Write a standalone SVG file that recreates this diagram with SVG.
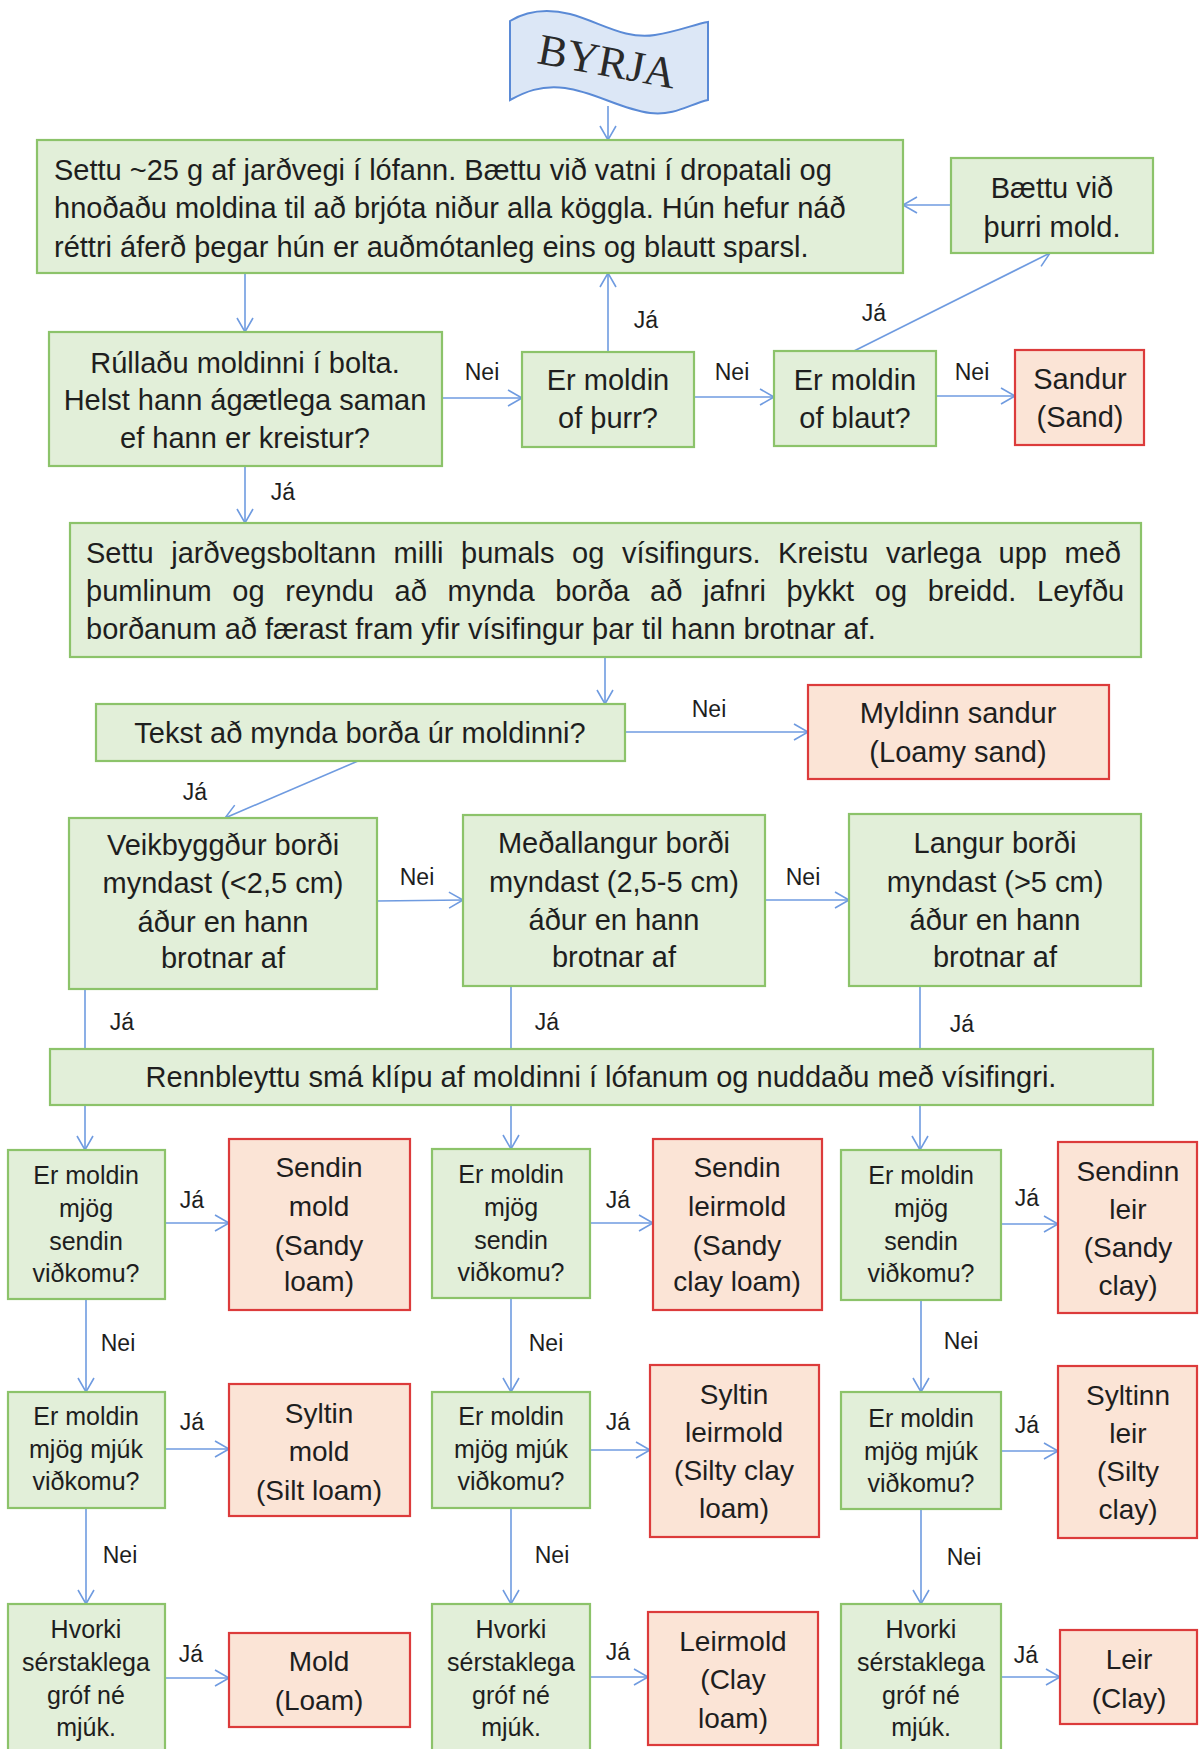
<svg xmlns="http://www.w3.org/2000/svg" width="1199" height="1749" viewBox="0 0 1199 1749">
<style>
  .g { fill: #e2efd9; stroke: #8cc36a; stroke-width: 2.2; }
  .r { fill: #fbe4d6; stroke: #dc3b3b; stroke-width: 2.2; }
  .t { font-family: "Liberation Sans", Arial, sans-serif; fill: #1e1e1e; }
  .t29 { font-size: 29px; }
  .t28 { font-size: 28px; }
  .t25 { font-size: 25px; }
  .c { text-anchor: middle; }
  .lbl { font-family: "Liberation Sans", Arial, sans-serif; font-size: 23px; fill: #1e1e1e; text-anchor: middle; }
  .con line { stroke: #6f9be0; stroke-width: 1.6; fill: none; }
  .arr { marker-end: url(#ah); }
</style>
<defs>
  <marker id="ah" viewBox="0 0 18 18" markerWidth="18" markerHeight="18" refX="15" refY="9" orient="auto" markerUnits="userSpaceOnUse">
    <path d="M1,1 L15,9 L1,17" fill="none" stroke="#6f9be0" stroke-width="1.6"/>
  </marker>
</defs>
<rect width="1199" height="1749" fill="#ffffff"/>

<g id="connectors" class="con">
  <line class="arr" x1="608" y1="106" x2="608" y2="140"/>
  <line class="arr" x1="951" y1="205" x2="903" y2="205"/>
  <line class="arr" x1="245" y1="273" x2="245" y2="332"/>
  <line class="arr" x1="442" y1="398" x2="522" y2="398"/>
  <line class="arr" x1="608" y1="352" x2="608" y2="273"/>
  <line class="arr" x1="694" y1="397" x2="774" y2="397"/>
  <line class="arr" x1="854" y1="351" x2="1050" y2="253"/>
  <line class="arr" x1="936" y1="396" x2="1015" y2="396"/>
  <line class="arr" x1="245" y1="466" x2="245" y2="523"/>
  <line class="arr" x1="605" y1="657" x2="605" y2="704"/>
  <line class="arr" x1="625" y1="732" x2="808" y2="732"/>
  <line class="arr" x1="358" y1="761" x2="225" y2="818"/>
  <line class="arr" x1="377" y1="901" x2="463" y2="900"/>
  <line class="arr" x1="765" y1="900" x2="849" y2="900"/>
  <line x1="85" y1="989" x2="85" y2="1049"/>
  <line x1="511" y1="986" x2="511" y2="1049"/>
  <line x1="920" y1="986" x2="920" y2="1049"/>
  <line class="arr" x1="85" y1="1105" x2="85" y2="1150"/>
  <line class="arr" x1="511" y1="1105" x2="511" y2="1149"/>
  <line class="arr" x1="920" y1="1105" x2="920" y2="1150"/>
  <line class="arr" x1="165" y1="1223" x2="229" y2="1223"/>
  <line class="arr" x1="86" y1="1299" x2="86" y2="1392"/>
  <line class="arr" x1="165" y1="1449" x2="229" y2="1449"/>
  <line class="arr" x1="86" y1="1508" x2="86" y2="1604"/>
  <line class="arr" x1="165" y1="1678" x2="229" y2="1678"/>
  <line class="arr" x1="590" y1="1223" x2="653" y2="1223"/>
  <line class="arr" x1="511" y1="1298" x2="511" y2="1392"/>
  <line class="arr" x1="590" y1="1450" x2="650" y2="1450"/>
  <line class="arr" x1="511" y1="1508" x2="511" y2="1604"/>
  <line class="arr" x1="590" y1="1677" x2="648" y2="1677"/>
  <line class="arr" x1="1001" y1="1224" x2="1058" y2="1224"/>
  <line class="arr" x1="921" y1="1300" x2="921" y2="1392"/>
  <line class="arr" x1="1001" y1="1451" x2="1058" y2="1451"/>
  <line class="arr" x1="921" y1="1509" x2="921" y2="1604"/>
  <line class="arr" x1="1001" y1="1677" x2="1060" y2="1677"/>
  <text class="lbl" x="482" y="380">Nei</text>
  <text class="lbl" x="646" y="328">Já</text>
  <text class="lbl" x="732" y="380">Nei</text>
  <text class="lbl" x="874" y="321">Já</text>
  <text class="lbl" x="972" y="380">Nei</text>
  <text class="lbl" x="283" y="500">Já</text>
  <text class="lbl" x="709" y="717">Nei</text>
  <text class="lbl" x="195" y="800">Já</text>
  <text class="lbl" x="417" y="885">Nei</text>
  <text class="lbl" x="803" y="885">Nei</text>
  <text class="lbl" x="122" y="1030">Já</text>
  <text class="lbl" x="547" y="1030">Já</text>
  <text class="lbl" x="962" y="1032">Já</text>
  <text class="lbl" x="192" y="1208">Já</text>
  <text class="lbl" x="118" y="1351">Nei</text>
  <text class="lbl" x="192" y="1430">Já</text>
  <text class="lbl" x="120" y="1563">Nei</text>
  <text class="lbl" x="191" y="1662">Já</text>
  <text class="lbl" x="618" y="1208">Já</text>
  <text class="lbl" x="546" y="1351">Nei</text>
  <text class="lbl" x="618" y="1430">Já</text>
  <text class="lbl" x="552" y="1563">Nei</text>
  <text class="lbl" x="618" y="1660">Já</text>
  <text class="lbl" x="1027" y="1206">Já</text>
  <text class="lbl" x="961" y="1349">Nei</text>
  <text class="lbl" x="1027" y="1433">Já</text>
  <text class="lbl" x="964" y="1565">Nei</text>
  <text class="lbl" x="1026" y="1663">Já</text>
</g>

<g id="byrja">
  <path d="M510,21 C525,12 545,8 570,14 C600,22 625,40 655,35 C680,31 695,24 708,22 L708,100 C690,104 675,116 650,113 C620,109 595,92 565,88 C540,85 525,92 510,100 Z" fill="#dce7f6" stroke="#5a8ad6" stroke-width="2"/>
  <text x="607" y="76" transform="rotate(10.5 607 62)" font-family="'Liberation Serif', 'Times New Roman', serif" font-size="44" fill="#2a2a2a" text-anchor="middle">BYRJA</text>
</g>

<g id="n-settu">
  <rect class="g" x="37" y="140" width="866" height="133"/>
  <text class="t t29" x="54" y="180">Settu ~25 g af jarðvegi í lófann. Bættu við vatni í dropatali og</text>
  <text class="t t29" x="54" y="218">hnoðaðu moldina til að brjóta niður alla köggla. Hún hefur náð</text>
  <text class="t t29" x="54" y="257">réttri áferð þegar hún er auðmótanleg eins og blautt sparsl.</text>
</g>
<g id="n-baettu">
  <rect class="g" x="951" y="158" width="202" height="95"/>
  <text class="t t29 c" x="1052" y="198">Bættu við</text>
  <text class="t t29 c" x="1052" y="237">þurri mold.</text>
</g>
<g id="n-rulladu">
  <rect class="g" x="49" y="332" width="393" height="134"/>
  <text class="t t29 c" x="245" y="373">Rúllaðu moldinni í bolta.</text>
  <text class="t t29 c" x="245" y="410">Helst hann ágætlega saman</text>
  <text class="t t29 c" x="245" y="448">ef hann er kreistur?</text>
</g>
<g id="n-thurr">
  <rect class="g" x="522" y="352" width="172" height="95"/>
  <text class="t t29 c" x="608" y="390">Er moldin</text>
  <text class="t t29 c" x="608" y="428">of þurr?</text>
</g>
<g id="n-blaut">
  <rect class="g" x="774" y="351" width="162" height="95"/>
  <text class="t t29 c" x="855" y="390">Er moldin</text>
  <text class="t t29 c" x="855" y="428">of blaut?</text>
</g>
<g id="n-sand">
  <rect class="r" x="1015" y="350" width="129" height="95"/>
  <text class="t t29 c" x="1080" y="389">Sandur</text>
  <text class="t t29 c" x="1080" y="427">(Sand)</text>
</g>
<g id="n-bordi">
  <rect class="g" x="70" y="523" width="1071" height="134"/>
  <text class="t t29" x="86" y="563" word-spacing="9.5">Settu jarðvegsboltann milli þumals og vísifingurs. Kreistu varlega upp með</text>
  <text class="t t29" x="86" y="601" word-spacing="12.6">þumlinum og reyndu að mynda borða að jafnri þykkt og breidd. Leyfðu</text>
  <text class="t t29" x="86" y="639">borðanum að færast fram yfir vísifingur þar til hann brotnar af.</text>
</g>
<g id="n-tekst">
  <rect class="g" x="96" y="704" width="529" height="57"/>
  <text class="t t29 c" x="360" y="743">Tekst að mynda borða úr moldinni?</text>
</g>
<g id="n-loamysand">
  <rect class="r" x="808" y="685" width="301" height="94"/>
  <text class="t t29 c" x="958" y="723">Myldinn sandur</text>
  <text class="t t29 c" x="958" y="762">(Loamy sand)</text>
</g>
<g id="n-veik">
  <rect class="g" x="69" y="818" width="308" height="171"/>
  <text class="t t29 c" x="223" y="855">Veikbyggður borði</text>
  <text class="t t29 c" x="223" y="893">myndast (&lt;2,5 cm)</text>
  <text class="t t29 c" x="223" y="932">áður en hann</text>
  <text class="t t29 c" x="223" y="968">brotnar af</text>
</g>
<g id="n-medal">
  <rect class="g" x="463" y="815" width="302" height="171"/>
  <text class="t t29 c" x="614" y="853">Meðallangur borði</text>
  <text class="t t29 c" x="614" y="892">myndast (2,5-5 cm)</text>
  <text class="t t29 c" x="614" y="930">áður en hann</text>
  <text class="t t29 c" x="614" y="967">brotnar af</text>
</g>
<g id="n-langur">
  <rect class="g" x="849" y="814" width="292" height="172"/>
  <text class="t t29 c" x="995" y="853">Langur borði</text>
  <text class="t t29 c" x="995" y="892">myndast (&gt;5 cm)</text>
  <text class="t t29 c" x="995" y="930">áður en hann</text>
  <text class="t t29 c" x="995" y="967">brotnar af</text>
</g>
<g id="n-renn">
  <rect class="g" x="50" y="1049" width="1103" height="56"/>
  <text class="t t29 c" x="601" y="1087">Rennbleyttu smá klípu af moldinni í lófanum og nuddaðu með vísifingri.</text>
</g>

<g id="n-q1a">
  <rect class="g" x="8" y="1150" width="157" height="149"/>
  <text class="t t25 c" x="86" y="1184">Er moldin</text>
  <text class="t t25 c" x="86" y="1217">mjög</text>
  <text class="t t25 c" x="86" y="1250">sendin</text>
  <text class="t t25 c" x="86" y="1282">viðkomu?</text>
</g>
<g id="n-q2a">
  <rect class="g" x="8" y="1392" width="157" height="116"/>
  <text class="t t25 c" x="86" y="1425">Er moldin</text>
  <text class="t t25 c" x="86" y="1458">mjög mjúk</text>
  <text class="t t25 c" x="86" y="1490">viðkomu?</text>
</g>
<g id="n-q3a">
  <rect class="g" x="8" y="1604" width="157" height="160"/>
  <text class="t t25 c" x="86" y="1638">Hvorki</text>
  <text class="t t25 c" x="86" y="1671">sérstaklega</text>
  <text class="t t25 c" x="86" y="1704">gróf né</text>
  <text class="t t25 c" x="86" y="1736">mjúk.</text>
</g>
<g id="n-sandyloam">
  <rect class="r" x="229" y="1139" width="181" height="171"/>
  <text class="t t28 c" x="319" y="1177">Sendin</text>
  <text class="t t28 c" x="319" y="1216">mold</text>
  <text class="t t28 c" x="319" y="1255">(Sandy</text>
  <text class="t t28 c" x="319" y="1291">loam)</text>
</g>
<g id="n-siltloam">
  <rect class="r" x="229" y="1384" width="181" height="132"/>
  <text class="t t28 c" x="319" y="1423">Syltin</text>
  <text class="t t28 c" x="319" y="1461">mold</text>
  <text class="t t28 c" x="319" y="1500">(Silt loam)</text>
</g>
<g id="n-loam">
  <rect class="r" x="229" y="1633" width="181" height="94"/>
  <text class="t t28 c" x="319" y="1671">Mold</text>
  <text class="t t28 c" x="319" y="1710">(Loam)</text>
</g>

<g id="n-q1b">
  <rect class="g" x="432" y="1149" width="158" height="149"/>
  <text class="t t25 c" x="511" y="1183">Er moldin</text>
  <text class="t t25 c" x="511" y="1216">mjög</text>
  <text class="t t25 c" x="511" y="1249">sendin</text>
  <text class="t t25 c" x="511" y="1281">viðkomu?</text>
</g>
<g id="n-q2b">
  <rect class="g" x="432" y="1392" width="158" height="116"/>
  <text class="t t25 c" x="511" y="1425">Er moldin</text>
  <text class="t t25 c" x="511" y="1458">mjög mjúk</text>
  <text class="t t25 c" x="511" y="1490">viðkomu?</text>
</g>
<g id="n-q3b">
  <rect class="g" x="432" y="1604" width="158" height="160"/>
  <text class="t t25 c" x="511" y="1638">Hvorki</text>
  <text class="t t25 c" x="511" y="1671">sérstaklega</text>
  <text class="t t25 c" x="511" y="1704">gróf né</text>
  <text class="t t25 c" x="511" y="1736">mjúk.</text>
</g>
<g id="n-sandyclayloam">
  <rect class="r" x="653" y="1139" width="169" height="171"/>
  <text class="t t28 c" x="737" y="1177">Sendin</text>
  <text class="t t28 c" x="737" y="1216">leirmold</text>
  <text class="t t28 c" x="737" y="1255">(Sandy</text>
  <text class="t t28 c" x="737" y="1291">clay loam)</text>
</g>
<g id="n-siltyclayloam">
  <rect class="r" x="650" y="1365" width="169" height="172"/>
  <text class="t t28 c" x="734" y="1404">Syltin</text>
  <text class="t t28 c" x="734" y="1442">leirmold</text>
  <text class="t t28 c" x="734" y="1480">(Silty clay</text>
  <text class="t t28 c" x="734" y="1518">loam)</text>
</g>
<g id="n-clayloam">
  <rect class="r" x="648" y="1612" width="170" height="133"/>
  <text class="t t28 c" x="733" y="1651">Leirmold</text>
  <text class="t t28 c" x="733" y="1689">(Clay</text>
  <text class="t t28 c" x="733" y="1728">loam)</text>
</g>

<g id="n-q1c">
  <rect class="g" x="841" y="1150" width="160" height="150"/>
  <text class="t t25 c" x="921" y="1184">Er moldin</text>
  <text class="t t25 c" x="921" y="1217">mjög</text>
  <text class="t t25 c" x="921" y="1250">sendin</text>
  <text class="t t25 c" x="921" y="1282">viðkomu?</text>
</g>
<g id="n-q2c">
  <rect class="g" x="841" y="1392" width="160" height="117"/>
  <text class="t t25 c" x="921" y="1427">Er moldin</text>
  <text class="t t25 c" x="921" y="1460">mjög mjúk</text>
  <text class="t t25 c" x="921" y="1492">viðkomu?</text>
</g>
<g id="n-q3c">
  <rect class="g" x="841" y="1604" width="160" height="160"/>
  <text class="t t25 c" x="921" y="1638">Hvorki</text>
  <text class="t t25 c" x="921" y="1671">sérstaklega</text>
  <text class="t t25 c" x="921" y="1704">gróf né</text>
  <text class="t t25 c" x="921" y="1736">mjúk.</text>
</g>
<g id="n-sandyclay">
  <rect class="r" x="1058" y="1142" width="139" height="171"/>
  <text class="t t28 c" x="1128" y="1181">Sendinn</text>
  <text class="t t28 c" x="1128" y="1219">leir</text>
  <text class="t t28 c" x="1128" y="1257">(Sandy</text>
  <text class="t t28 c" x="1128" y="1295">clay)</text>
</g>
<g id="n-siltyclay">
  <rect class="r" x="1058" y="1366" width="139" height="172"/>
  <text class="t t28 c" x="1128" y="1405">Syltinn</text>
  <text class="t t28 c" x="1128" y="1443">leir</text>
  <text class="t t28 c" x="1128" y="1481">(Silty</text>
  <text class="t t28 c" x="1128" y="1519">clay)</text>
</g>
<g id="n-clay">
  <rect class="r" x="1060" y="1630" width="137" height="94"/>
  <text class="t t28 c" x="1129" y="1669">Leir</text>
  <text class="t t28 c" x="1129" y="1708">(Clay)</text>
</g>
</svg>
